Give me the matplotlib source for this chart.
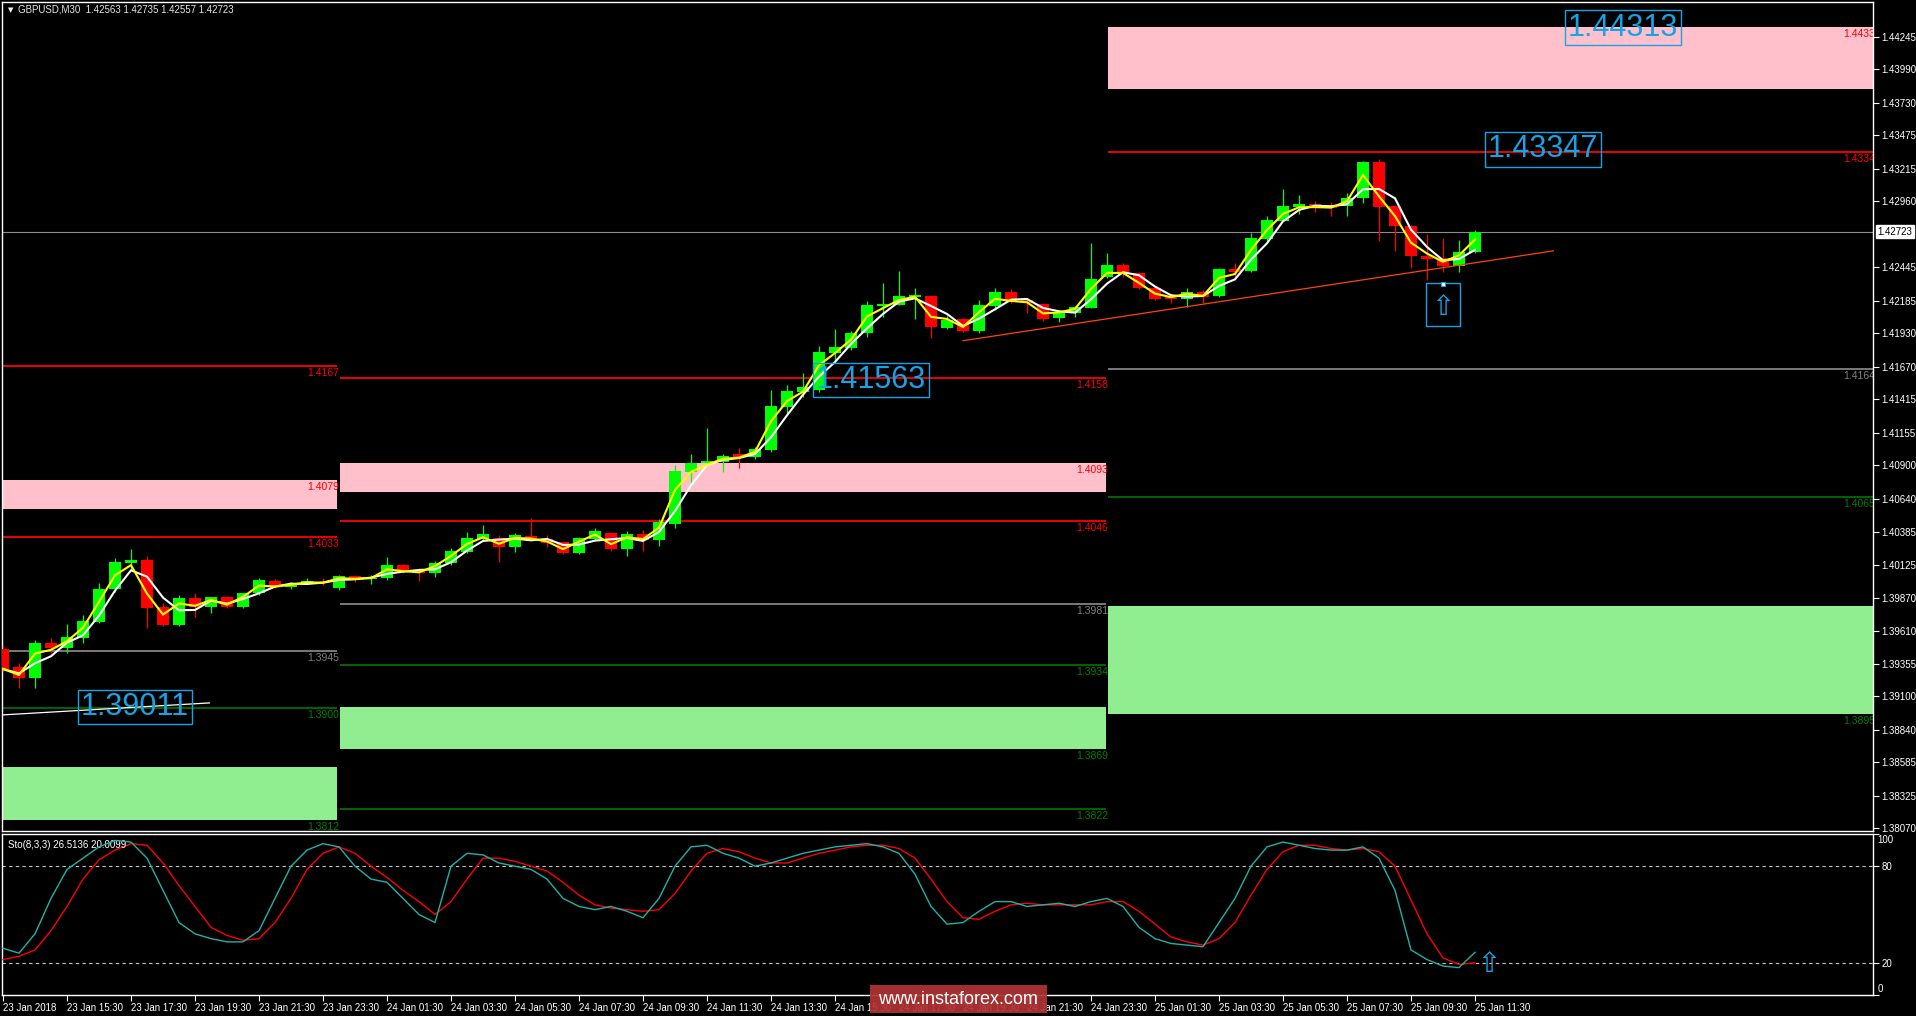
import matplotlib
matplotlib.use("Agg")
import matplotlib.pyplot as plt
import matplotlib.transforms as mtransforms
from matplotlib.patches import Rectangle
import numpy as np
import pandas as pd

plt.rcParams['font.family'] = ['Liberation Sans', 'DejaVu Sans']

# --- data -------------------------------------------------------------
header = "GBPUSD,M30  1.42563 1.42735 1.42557 1.42723"
sto_title = "Sto(8,3,3) 26.5136 20.0099"

opens = [1.39469, 1.39328, 1.39243, 1.39516, 1.39477, 1.39555, 1.39679, 1.39937, 1.40140, 1.40163,
         1.39796, 1.39656, 1.39867, 1.39796, 1.39874, 1.39796, 1.39906, 1.39999, 1.39952, 1.39984,
         1.39991, 1.39945, 1.40038, 1.40015, 1.40023, 1.40124, 1.40085, 1.40062, 1.40140, 1.40225,
         1.40327, 1.40335, 1.40264, 1.40350, 1.40327, 1.40303, 1.40218, 1.40327, 1.40374, 1.40249,
         1.40366, 1.40319, 1.40444, 1.40849, 1.40920, 1.40927, 1.40990, 1.40966, 1.41021, 1.41356,
         1.41473, 1.41489, 1.41778, 1.41817, 1.41934, 1.42144, 1.42152, 1.42214, 1.42222, 1.41973,
         1.42043, 1.41949, 1.42144, 1.42253, 1.42191, 1.42160, 1.42051, 1.42090, 1.42129, 1.42370,
         1.42464, 1.42402, 1.42285, 1.42222, 1.42199, 1.42253, 1.42222, 1.42433, 1.42417, 1.42667,
         1.42807, 1.42916, 1.42940, 1.42924, 1.42924, 1.42987, 1.43267, 1.42924, 1.42768, 1.42534,
         1.42519, 1.42456, 1.42563]
highs = [1.39500, 1.39360, 1.39539, 1.39555, 1.39664, 1.39734, 1.39984, 1.40179, 1.40249, 1.40194,
         1.39828, 1.39890, 1.39906, 1.39874, 1.39882, 1.39906, 1.40023, 1.40015, 1.39991, 1.40023,
         1.40023, 1.40046, 1.40046, 1.40046, 1.40186, 1.40132, 1.40101, 1.40155, 1.40257, 1.40381,
         1.40436, 1.40358, 1.40374, 1.40491, 1.40358, 1.40311, 1.40342, 1.40413, 1.40381, 1.40389,
         1.40397, 1.40483, 1.40904, 1.40990, 1.41193, 1.40990, 1.41037, 1.41044, 1.41489, 1.41528,
         1.41622, 1.41832, 1.41965, 1.41949, 1.42183, 1.42324, 1.42417, 1.42285, 1.42230, 1.42066,
         1.42051, 1.42191, 1.42285, 1.42277, 1.42199, 1.42168, 1.42113, 1.42144, 1.42636, 1.42558,
         1.42480, 1.42409, 1.42292, 1.42246, 1.42285, 1.42269, 1.42441, 1.42480, 1.42714, 1.42846,
         1.43057, 1.43010, 1.42963, 1.42955, 1.43026, 1.43275, 1.43291, 1.42932, 1.42776, 1.42706,
         1.42675, 1.42659, 1.42735]
lows = [1.39289, 1.39165, 1.39165, 1.39438, 1.39438, 1.39516, 1.39672, 1.39913, 1.40085, 1.39633,
        1.39648, 1.39648, 1.39718, 1.39750, 1.39789, 1.39789, 1.39890, 1.39945, 1.39937, 1.39976,
        1.39968, 1.39929, 1.39991, 1.39976, 1.40007, 1.40062, 1.39999, 1.40030, 1.40124, 1.40218,
        1.40311, 1.40147, 1.40225, 1.40319, 1.40264, 1.40210, 1.40210, 1.40319, 1.40233, 1.40194,
        1.40233, 1.40272, 1.40413, 1.40740, 1.40920, 1.40849, 1.40881, 1.40951, 1.41005, 1.41310,
        1.41434, 1.41473, 1.41707, 1.41801, 1.41902, 1.42058, 1.42152, 1.42043, 1.41895, 1.41965,
        1.41941, 1.41934, 1.42113, 1.42168, 1.42090, 1.42027, 1.42019, 1.42058, 1.42129, 1.42363,
        1.42370, 1.42277, 1.42191, 1.42168, 1.42136, 1.42168, 1.42214, 1.42347, 1.42409, 1.42651,
        1.42807, 1.42862, 1.42877, 1.42846, 1.42846, 1.42948, 1.42651, 1.42573, 1.42441, 1.42347,
        1.42409, 1.42409, 1.42557]
closes = [1.39313, 1.39243, 1.39516, 1.39477, 1.39562, 1.39687, 1.39937, 1.40147, 1.40163, 1.39789,
          1.39656, 1.39867, 1.39796, 1.39874, 1.39796, 1.39906, 1.40007, 1.39952, 1.39976, 1.39999,
          1.39984, 1.40038, 1.40015, 1.40023, 1.40124, 1.40069, 1.40062, 1.40140, 1.40233, 1.40335,
          1.40366, 1.40264, 1.40358, 1.40327, 1.40296, 1.40218, 1.40335, 1.40389, 1.40249, 1.40366,
          1.40319, 1.40459, 1.40857, 1.40920, 1.40935, 1.40974, 1.40966, 1.41029, 1.41364, 1.41481,
          1.41512, 1.41785, 1.41824, 1.41934, 1.42152, 1.42160, 1.42222, 1.42230, 1.41980, 1.42035,
          1.41949, 1.42152, 1.42253, 1.42175, 1.42168, 1.42043, 1.42097, 1.42136, 1.42355, 1.42464,
          1.42402, 1.42285, 1.42199, 1.42199, 1.42253, 1.42214, 1.42433, 1.42409, 1.42675, 1.42815,
          1.42924, 1.42940, 1.42916, 1.42909, 1.42987, 1.43267, 1.42916, 1.42768, 1.42534, 1.42511,
          1.42456, 1.42565, 1.42723]

sto_main = [29, 26, 38, 60, 78, 85, 92, 96, 95, 85,
            65, 45, 38, 35, 33, 33, 40, 60, 80, 90,
            94, 92, 80, 72, 70, 60, 50, 45, 80, 88,
            87, 82, 80, 78, 72, 60, 55, 53, 55, 52,
            48, 60, 80, 92, 93, 88, 85, 80, 82, 85,
            88, 90, 92, 93, 94, 92, 88, 75, 55, 44,
            45, 52, 58, 58, 55, 56, 57, 55, 58, 60,
            55, 42, 35, 32, 31, 30, 45, 60, 80, 92,
            95, 93, 91, 90, 90, 92, 85, 65, 28, 22,
            18, 17, 26.5136]
sto_signal = [22, 24, 28, 40, 55, 72, 84, 90, 94, 93,
              82, 68, 55, 42, 37, 34, 35, 45, 60, 78,
              88, 92, 88, 80, 73, 65, 58, 50, 58, 72,
              85, 85, 83, 80, 77, 70, 62, 56, 54, 53,
              52, 53, 63, 77, 88, 91, 89, 85, 82, 82,
              85, 88, 90, 92, 93, 93, 91, 85, 72, 58,
              48, 47, 52, 56, 57, 56, 56, 56, 56, 58,
              58, 52, 44, 36, 33, 31, 35, 45, 62, 78,
              89, 93, 93, 91, 90, 91, 89, 80, 59, 38,
              23, 19, 20.0099]

price_ticks = [1.44245, 1.43990, 1.43730, 1.43475, 1.43215, 1.42960, 1.42445, 1.42185,
               1.41930, 1.41670, 1.41415, 1.41155, 1.40900, 1.40640, 1.40385, 1.40125,
               1.39870, 1.39610, 1.39355, 1.39100, 1.38840, 1.38585, 1.38325, 1.38070]

time_labels = ["23 Jan 2018", "23 Jan 15:30", "23 Jan 17:30", "23 Jan 19:30", "23 Jan 21:30",
               "23 Jan 23:30", "24 Jan 01:30", "24 Jan 03:30", "24 Jan 05:30", "24 Jan 07:30",
               "24 Jan 09:30", "24 Jan 11:30", "24 Jan 13:30", "24 Jan 15:30", "24 Jan 17:30",
               "24 Jan 19:30", "24 Jan 21:30", "24 Jan 23:30", "25 Jan 01:30", "25 Jan 03:30",
               "25 Jan 05:30", "25 Jan 07:30", "25 Jan 09:30", "25 Jan 11:30"]

# (segment, kind, low, high, label)
levels = [
    ("A", "red", 1.41679, None, "1.4167"),
    ("A", "pink", 1.40561, 1.40787, "1.4079"),
    ("A", "red", 1.40340, None, "1.4033"),
    ("A", "gray", 1.39455, None, "1.3945"),
    ("A", "green", 1.39006, None, "1.3900"),
    ("A", "greenzone", 1.38135, 1.38548, "1.3812"),
    ("B", "red", 1.41585, None, "1.4158"),
    ("B", "pink", 1.40693, 1.40922, "1.4093"),
    ("B", "red", 1.40470, None, "1.4046"),
    ("B", "gray", 1.39817, None, "1.3981"),
    ("B", "green", 1.39344, None, "1.3934"),
    ("B", "greenzone", 1.38690, 1.39019, "1.3869"),
    ("B", "green", 1.38221, None, "1.3822"),
    ("C", "pink", 1.43837, 1.44323, "1.4433"),
    ("C", "red", 1.43348, None, "1.4334"),
    ("C", "gray", 1.41650, None, "1.4164"),
    ("C", "green", 1.40657, None, "1.4065"),
    ("C", "greenzone", 1.38962, 1.39804, "1.3895"),
]

# boxed price notes: (text, candle position, price)
notes = [("1.44313", 101.25, 1.44316), ("1.43347", 96.25, 1.43365),
         ("1.41563", 54.25, 1.41567), ("1.39011", 8.25, 1.39016)]

trend_up = ([60.0, 96.9], [1.41873, 1.42574])
trend_low = ([-0.1, 12.9], [1.38954, 1.39048])

# --- layout -----------------------------------------------------------
W, H = 1916, 1016
segments = {"A": (-0.1, 20.875), "B": (21.06, 68.94), "C": (69.06, 116.875)}
x_lim = (-0.0625, 116.875)
y_lim = (1.38049, 1.44515)
CYAN = "#17A3E6"
styles = {
    "red": dict(color="#FF0000", lw=1.3, text="#FF0000"),
    "gray": dict(color="#9A9A9A", lw=1.1, text="#808080"),
    "green": dict(color="#008000", lw=1.1, text="#008000"),
    "pink": dict(color="#FFC0CB", text="#FF0000"),
    "greenzone": dict(color="#90EE90", text="#008000"),
}

fig = plt.figure(figsize=(W / 100, H / 100), dpi=100, facecolor="black")
ax = fig.add_axes([2 / W, 1 - 831 / H, 1871 / W, 829 / H], facecolor="black")
ax2 = fig.add_axes([2 / W, 1 - 995 / H, 1871 / W, 161 / H], facecolor="black")

idx = np.arange(len(closes))
o = np.array(opens); c = np.array(closes)
h = np.array(highs); l = np.array(lows)
up = c >= o
colors = np.where(up, "#00FF00", "#FF0000")

# levels and zones
for seg, kind, lo, hi, lab in levels:
    x0, x1 = segments[seg]
    st = styles[kind]
    if hi is None:
        ax.plot([x0, x1], [lo, lo], color=st["color"], lw=st["lw"], zorder=1, solid_capstyle="butt")
        ty = lo
    else:
        ax.add_patch(Rectangle((x0, lo), x1 - x0, hi - lo, color=st["color"], lw=0, zorder=0.5))
        ty = hi if kind == "pink" else lo
    ax.annotate(lab, xy=(x1 + 0.15, ty), xytext=(0, -2), textcoords="offset pixels",
                ha="right", va="top", fontsize=7.5, color=st["text"], zorder=2,
                annotation_clip=False, clip_on=True)

# current price line
ax.axhline(closes[-1], color="#8C8C8C", lw=0.8, zorder=1)

# candles
ax.vlines(idx, l, h, colors=colors, lw=0.9, zorder=3)
body_lo = np.minimum(o, c)
body_h = np.maximum(np.abs(c - o), 0.00009)
ax.bar(idx, body_h, bottom=body_lo, width=0.69, color=colors, lw=0, zorder=3)

# moving averages
cs = pd.Series(closes)
ma_fast = cs.ewm(span=2, adjust=False).mean()
ma_slow = cs.rolling(3, min_periods=1).mean()
ax.plot(idx, ma_slow, color="white", lw=1.5, zorder=4)
ax.plot(idx, ma_fast, color="#FFFF00", lw=1.5, zorder=5)

# trend lines
ax.plot(*trend_up, color="#FF4500", lw=0.9, zorder=4)
ax.plot(*trend_low, color="white", lw=0.9, zorder=4)

# boxed notes
for txt, xi, yp in notes:
    ax.text(xi, yp, txt, fontsize=22, color=CYAN, ha="center", va="center", zorder=6,
            bbox=dict(boxstyle="square,pad=0.08", fc="none", ec=CYAN, lw=1.0))

# arrow box on price
bx, by = 88.95, 1.42326
ax.add_patch(Rectangle((bx, by - 0.00335), 2.13, 0.00335, fc="none", ec=CYAN, lw=1.0, zorder=6))
ax.text(bx + 1.07, by - 0.0019, "\u21e7", fontsize=20, color=CYAN, ha="center", va="center",
        family=["DejaVu Sans"], zorder=6)
ax.plot([bx + 1.07], [by - 0.00012], marker="s", ms=3.5, mfc="white", mec=CYAN, mew=0.8, zorder=7)

ax.set_xlim(*x_lim)
ax.set_ylim(*y_lim)
ax.set_xticks([])
ax.yaxis.tick_right()
ax.set_yticks(price_ticks)
ax.set_yticklabels(["%.5f" % t for t in price_ticks])
ax.tick_params(axis="y", colors="white", labelsize=7, length=4, width=0.8, pad=2)
for sp in ax.spines.values():
    sp.set_color("white"); sp.set_linewidth(1)

# current price tag
blend = mtransforms.blended_transform_factory(ax.transAxes, ax.transData)
ax.text(1.0025, closes[-1], "%.5f" % closes[-1], transform=blend, fontsize=7, color="black",
        ha="left", va="center", clip_on=False, zorder=8,
        bbox=dict(boxstyle="square,pad=0.15", fc="white", ec="white"))

# --- stochastic -------------------------------------------------------
ax2.plot(idx, sto_signal, color="#FF0000", lw=1.0, zorder=3)
ax2.plot(idx, sto_main, color="#20B2AA", lw=1.0, zorder=4)
for lv in (80, 20):
    ax2.axhline(lv, color="#C8C8C8", lw=0.8, dashes=(3, 3), zorder=1)
ax2.set_xlim(*x_lim)
ax2.set_ylim(0, 100)
ax2.yaxis.tick_right()
ax2.set_yticks([100, 80, 20, 0])
ax2.set_yticklabels(["", "80", "20", ""])
ax2.tick_params(axis="y", colors="white", labelsize=7, length=4, width=0.8, pad=2)
blend2 = mtransforms.blended_transform_factory(ax2.transAxes, ax2.transData)
ax2.text(1.0025, 96, "100", transform=blend2, color="white", fontsize=7, va="center", ha="left")
ax2.text(1.0025, 4, "0", transform=blend2, color="white", fontsize=7, va="center", ha="left")
ax2.set_xticks(idx[::4])
ax2.set_xticklabels(time_labels)
ax2.tick_params(axis="x", colors="white", labelsize=7, length=4, width=0.8, pad=2)
for lab in ax2.get_xticklabels():
    lab.set_ha("left")
for sp in ax2.spines.values():
    sp.set_color("white"); sp.set_linewidth(1)
ax2.text(0.003, 0.93, sto_title, transform=ax2.transAxes, color="white", fontsize=7, va="center")
ax2.text(92.9, 19, "\u21e7", fontsize=20, color=CYAN, ha="center", va="center",
         family=["DejaVu Sans"], zorder=6)

# header and watermark
fig.text(8 / W, 1 - 10 / H, "\u25bc", color="white", fontsize=5, va="center", family=["DejaVu Sans"])
fig.text(18 / W, 1 - 10 / H, header, color="#E6E6E6", fontsize=7, va="center")
fig.add_artist(Rectangle((870 / W, 1 - 1013 / H), 177 / W, 28 / H, transform=fig.transFigure,
                         fc="#B03434", ec="none", alpha=0.92, zorder=10))
fig.text(958 / W, 1 - 999 / H, "www.instaforex.com", color="white", fontsize=13,
         ha="center", va="center", zorder=11)

fig.savefig("out.png", dpi=100, facecolor="black")
